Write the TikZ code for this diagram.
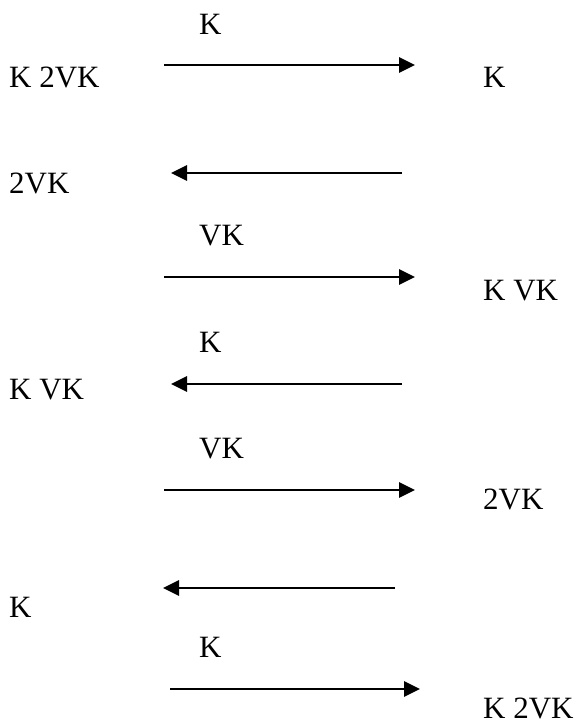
\documentclass[tikz,border=0pt]{standalone}
\usepackage{fontspec}
\setmainfont{Liberation Serif}
\usetikzlibrary{arrows.meta}
\tikzset{
  txt/.style={anchor=base west, inner sep=0pt, font=\fontsize{31}{36}\selectfont},
  arr/.style={line width=2.8pt, -{Triangle[length=16pt,width=15pt]}}
}
\begin{document}
\begin{tikzpicture}[x=1pt,y=-1pt]
\useasboundingbox (0,0) rectangle (577,721);
% labels above arrows
\node[txt] (l1) at (199,34) {K};
\node[txt] (l3) at (199,245) {VK};
\node[txt] (l4) at (199,352) {K};
\node[txt] (l5) at (199,458) {VK};
\node[txt] (l7) at (199,657) {K};
% left column
\node[txt] (L1) at (9,87) {K 2VK};
\node[txt] (L2) at (9,193) {2VK};
\node[txt] (L4) at (9,399) {K VK};
\node[txt] (L6) at (9,617) {K};
% right column
\node[txt] (R1) at (483,87) {K};
\node[txt] (R3) at (483,300) {K VK};
\node[txt] (R5) at (483,509) {2VK};
\node[txt] (R7) at (483,718) {K 2VK};
% arrow endpoints
\coordinate (a1s) at (164,65);  \coordinate (a1e) at (415,65);
\coordinate (a2s) at (402,173); \coordinate (a2e) at (171,173);
\coordinate (a3s) at (164,277); \coordinate (a3e) at (415,277);
\coordinate (a4s) at (402,384); \coordinate (a4e) at (171,384);
\coordinate (a5s) at (164,490); \coordinate (a5e) at (415,490);
\coordinate (a6s) at (395,588); \coordinate (a6e) at (163,588);
\coordinate (a7s) at (170,689); \coordinate (a7e) at (420,689);
\draw[arr] (a1s) -- (a1e);
\draw[arr] (a2s) -- (a2e);
\draw[arr] (a3s) -- (a3e);
\draw[arr] (a4s) -- (a4e);
\draw[arr] (a5s) -- (a5e);
\draw[arr] (a6s) -- (a6e);
\draw[arr] (a7s) -- (a7e);
\end{tikzpicture}
\end{document}
